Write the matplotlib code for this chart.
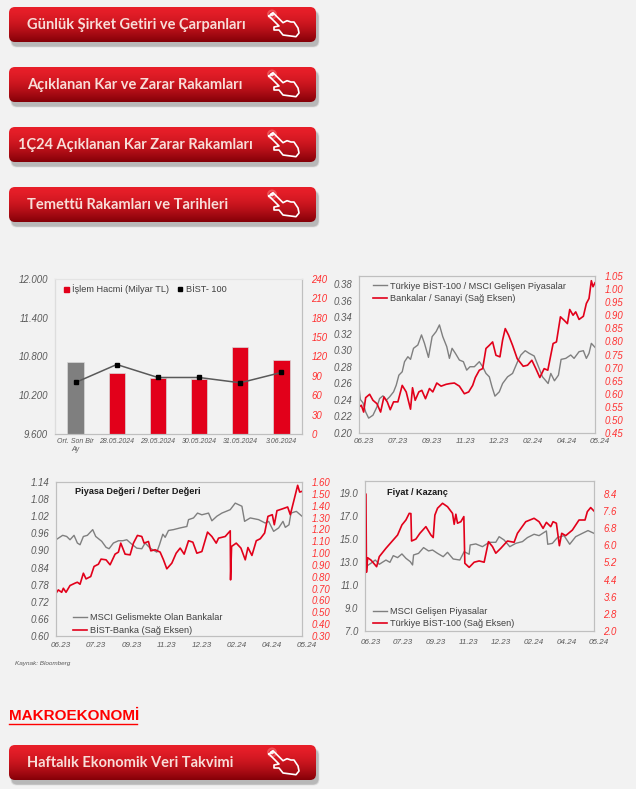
import numpy as np
import matplotlib
matplotlib.use('Agg')
import matplotlib.pyplot as plt
from matplotlib.patches import FancyBboxPatch, Circle
from matplotlib.transforms import ScaledTranslation

plt.rcParams['font.family'] = ['Liberation Sans', 'DejaVu Sans']

W, H = 636, 789
BG = '#F2F2F2'
RED = '#E2001A'
GRAY = '#7F7F7F'
TICK_GRAY = '#595959'
TICK_RED = '#FF3030'
SPINE = '#BFBFBF'

# buttons
button_labels = ['Günlük Şirket Getiri ve Çarpanları', 'Açıklanan Kar ve Zarar Rakamları',
                 '1Ç24 Açıklanan Kar Zarar Rakamları', 'Temettü Rakamları ve Tarihleri',
                 'Haftalık Ekonomik Veri Takvimi']
button_tops = [7, 67, 127, 187, 745]
button_text_x = [27, 27, 18, 27, 27]

# volume chart
vol_cats = ['Ort. Son Bir\nAy', '28.05.2024', '29.05.2024', '30.05.2024', '31.05.2024', '3.06.2024']
vol_values = [112, 95, 87, 85.5, 135, 115]
bist_values = [10398, 10676, 10475, 10475, 10393, 10553]

months = ['06.23', '07.23', '09.23', '11.23', '12.23', '02.24', '04.24', '05.24']

# BIST-100 / MSCI and Banks / Industry
x_a1 = [0, .4, 1.2, 2, 2.9, 4.2, 5.4, 6.2, 7.2, 8.2, 9.2, 10.4, 11.2, 12, 13, 13.7, 14.7, 15.5, 16.4, 17.7, 18.8, 19.7, 20.9, 22, 23.2, 24.2, 25.2, 26.4, 27.2, 28, 29, 30.2, 31.4, 32.4, 33.4, 34.7, 36.2, 37.2, 38.2, 39.2, 40, 40.9, 42.2, 43.2, 44.7, 46.2, 47.7, 48.7, 50, 51.2, 52.7, 54, 55.2, 56.9, 57.7, 58.8, 60, 60.8, 62.2, 63.7, 64.7, 66.2, 67.5, 68.4, 69.2, 69.9, 71]
y_a1 = [.256, .2405, .2365, .2255, .218, .2215, .2316, .2417, .245, .2397, .2437, .2498, .2579, .270, .2741, .2863, .2923, .2891, .3025, .3065, .3187, .3085, .2915, .3166, .3227, .3308, .3166, .3045, .2903, .3025, .2964, .2883, .2863, .2761, .2802, .2802, .2863, .2802, .2721, .268, .256, .2446, .2498, .2599, .268, .2721, .2863, .2944, .2996, .2964, .2932, .2802, .268, .2599, .2721, .2632, .27, .2891, .2903, .2944, .2903, .2984, .2996, .2903, .2964, .3085, .3037]
x_a2 = [0, .7, 1.4, 2, 3.2, 4.2, 5.4, 6.5, 7.5, 8.5, 9.4, 10.4, 11.7, 13, 14.2, 15.5, 16.1, 16.9, 18, 18.9, 20, 21.2, 22.2, 23.4, 24.7, 26.2, 27.4, 28.7, 30.2, 31.7, 33, 34.2, 35, 36.2, 37.2, 38.2, 39.2, 40.2, 41.2, 42.4, 43.2, 44, 45, 46.2, 47.6, 49.4, 50.7, 52, 53.2, 54.4, 55.7, 56.8, 57.8, 58.4, 59.4, 60.6, 61.7, 62.7, 63.4, 64.4, 65.2, 66.2, 67.5, 68.4, 69.2, 69.9, 70.4, 71]
y_a2 = [.549, .556, .530, .585, .598, .575, .562, .530, .588, .569, .539, .569, .569, .632, .607, .541, .623, .575, .607, .613, .581, .620, .607, .641, .629, .636, .639, .641, .629, .600, .607, .632, .662, .690, .696, .773, .785, .798, .747, .741, .805, .849, .824, .785, .734, .705, .709, .728, .696, .662, .696, .690, .754, .792, .798, .894, .881, .868, .922, .900, .913, .884, .896, .945, .964, 1.032, 1.009, 1.024]

# price / book
x_b1 = [0, .7, 2, 3.2, 4.2, 5.4, 6.4, 7.2, 8.2, 9.4, 11, 11.9, 13.7, 15, 15.9, 17.2, 18.7, 20, 21.2, 22.7, 24.2, 25.7, 26.7, 28.2, 30.2, 31, 32, 32.7, 33.7, 35.2, 37.2, 39.2, 39.7, 41.2, 42.4, 43.7, 45.7, 46.7, 48.2, 49.7, 52.2, 53.7, 55.7, 56.5, 58.2, 60.7, 62.7, 63.7, 65.2, 66.7, 68, 68.7, 69.8, 70.4, 72, 73.7]
y_b1 = [.9375, .943, .953, .949, .9375, .953, .926, .920, .949, .953, .973, .949, .932, .911, .906, .926, .934, .934, .9375, .922, .908, .906, .926, .908, .894, .920, .957, .946, .970, .973, .979, .984, 1.008, 1.014, 1.031, 1.025, 1.031, 1.004, 1.020, 1.031, 1.043, 1.066, 1.055, 1.002, 1.014, 1.008, .996, 1.002, .967, .979, 1.002, .981, .990, 1.031, 1.037, 1.020]
x_b2 = [0, .7, 1.7, 2.2, 3, 4.2, 5.7, 6.4, 7.2, 8.2, 9, 10.4, 11.4, 12.7, 13.5, 15, 16.2, 17.7, 18.7, 19.4, 20.7, 22.2, 23.2, 24.4, 25.7, 26.4, 27.7, 28.4, 29.7, 31.2, 32.2, 33.2, 34.7, 36, 37.2, 38.4, 39.7, 41, 42.2, 43.7, 45.4, 46.7, 48, 48.7, 50.7, 52.2, 52.3, 52.6, 54, 55.4, 56.7, 57.5, 58.7, 60, 61.2, 62.5, 63.5, 64.8, 65.4, 66.2, 67.7, 69.4, 70.2, 71.2, 72.4, 73, 73.7]
y_b2 = [.661, .689, .669, .703, .669, .726, .746, .754, .737, .830, .782, .802, .887, .906, .949, .943, .901, .991, 1.008, 1.084, .991, .985, 1.084, 1.149, 1.140, 1.084, 1.098, 1.019, 1.028, 1.008, .943, .867, .915, .999, 1.042, .991, 1.104, 1.092, .999, 1.013, 1.177, 1.140, 1.084, 1.126, 1.140, 1.188, .774, 1.056, 1.084, 1.042, .943, 1.047, .980, 1.104, 1.121, 1.169, 1.310, 1.324, 1.239, 1.358, 1.372, 1.389, 1.324, 1.436, 1.572, 1.515, 1.521]

# price / earnings
x_c1 = [.2, 1.7, 3, 4.2, 6.2, 7.4, 8.4, 9.7, 11, 12.2, 13.5, 14.2, 14.5, 16, 17.5, 19, 20.2, 21.7, 23.4, 24.7, 26.4, 28.4, 29.7, 31.2, 31.5, 33.2, 35.2, 37.2, 39.2, 40.2, 41.7, 43.4, 45.2, 47.2, 48.7, 50.7, 52.2, 54.4, 54.8, 56.2, 57.7, 59.7, 61.4, 63.2, 65.2, 66.9, 68.7]
y_c1 = [12.60, 12.89, 13.17, 12.80, 13.17, 12.97, 13.55, 13.38, 13.70, 13.32, 13.03, 12.74, 13.61, 13.75, 14.25, 13.96, 14.04, 13.75, 13.46, 13.84, 13.26, 13.17, 13.90, 13.67, 14.48, 14.57, 14.33, 14.71, 14.71, 15.20, 14.91, 14.33, 14.62, 14.77, 15.12, 15.41, 15.29, 15.70, 14.54, 14.62, 15.12, 15.29, 14.54, 15.20, 15.49, 15.73, 15.49]
x_c2 = [.2, .35, .7, 1.7, 3.4, 4.2, 6.2, 8.4, 9.7, 11, 12.2, 13.2, 13.7, 13.9, 15.2, 16.4, 18.2, 19.7, 20.4, 20.9, 21.7, 23.2, 24.7, 26.2, 26.7, 27.2, 27.7, 28.7, 29.6, 29.9, 31.2, 32.7, 34.2, 35.7, 37, 38.2, 39.2, 40.7, 42.7, 44.7, 45.7, 48.2, 50.7, 52.2, 53.4, 54.4, 55.7, 56.4, 57.4, 58.3, 59, 60.2, 62.2, 64.2, 66, 66.7, 67.7, 68.7]
y_c2 = [8.38, 4.74, 5.42, 5.31, 5.00, 5.47, 5.86, 6.25, 6.48, 6.95, 7.18, 7.49, 7.48, 6.20, 6.29, 6.56, 6.87, 6.48, 6.36, 7.41, 7.73, 7.96, 7.80, 7.49, 6.98, 7.45, 7.03, 7.10, 7.34, 5.16, 4.97, 5.21, 5.27, 5.21, 6.17, 5.94, 5.63, 5.86, 6.20, 6.14, 6.56, 7.10, 7.26, 7.10, 6.79, 7.07, 6.87, 7.10, 7.03, 5.98, 6.56, 6.45, 6.71, 7.18, 7.18, 7.57, 7.76, 7.60]

fig = plt.figure(figsize=(W / 100, H / 100), dpi=100, facecolor=BG)


def px_axes(left, top, right, bottom, **kw):
    return fig.add_axes([left / W, 1 - bottom / H, (right - left) / W, (bottom - top) / H], **kw)


# overlay in pixel coordinates for the buttons
ov = fig.add_axes([0, 0, 1, 1], zorder=5)
ov.set_xlim(0, W)
ov.set_ylim(H, 0)
ov.axis('off')
ov.patch.set_alpha(0)

grad = np.linspace(0, 1, 64)[:, None, None]
top_c = np.array([0.91, 0.12, 0.16])[None, None, :]
bot_c = np.array([0.52, 0.0, 0.03])[None, None, :]
grad_img = top_c * (1 - grad ** 1.6) + bot_c * grad ** 1.6

hand = [(269, 9), (273, 5.7), (283, 15.7), (287, 13.7), (291, 15), (294, 15), (298, 21), (299, 26), (296, 29.7),
        (283, 28), (279, 23), (274, 23), (274, 20), (279, 19), (269, 9)]

for label, top, tx in zip(button_labels, button_tops, button_text_x):
    for grow, a in ((3, .12), (2, .18), (1, .25)):
        ov.add_patch(FancyBboxPatch((12 - grow / 2, top + 5 - grow / 2), 306 + grow, 34 + grow,
                                    boxstyle='round,pad=0,rounding_size=6', fc='#777777', ec='none', alpha=a))
    box = FancyBboxPatch((9, top), 307, 35, boxstyle='round,pad=0,rounding_size=6', fc='none', ec='none')
    ov.add_patch(box)
    im = ov.imshow(grad_img, extent=(9, 316, top + 35, top), aspect='auto', interpolation='bilinear', zorder=2)
    im.set_clip_path(box)
    ov.text(tx, top + 18, label, color='#F8DDD8', fontsize=10.55, family='Lato', weight='bold',
            va='center', ha='left', zorder=3)
    ov.add_patch(Circle((272, top + 7.5), 5, fc='#F47C7C', ec='none', alpha=.55, zorder=3))
    ov.add_patch(Circle((272, top + 7.5), 2.4, fc='#FBE6E2', ec='#E2001A', lw=.6, zorder=3))
    hx, hy = zip(*hand)
    ov.plot(hx, [top + v for v in hy], color='white', lw=1.2, zorder=4, solid_joinstyle='round')
ov.set_xlim(0, W)
ov.set_ylim(H, 0)

ov.text(9, 716, 'MAKROEKONOMİ', color='#FF0000', fontsize=11, weight='bold', va='center', ha='left')
ov.plot([9, 137], [723.5, 723.5], color='#FF0000', lw=1)
ov.text(15, 663, 'Kaynak: Bloomberg', color=TICK_GRAY, fontsize=4.6, style='italic', va='center', ha='left')


def style_pair(ax, axr, xpad=4):
    for a in (ax, axr):
        a.set_facecolor('none')
        for s in a.spines.values():
            s.set_color(SPINE)
            s.set_linewidth(.8)
    ax.tick_params(axis='y', length=0, pad=5, labelsize=6.9, labelcolor=TICK_GRAY)
    axr.tick_params(axis='y', length=0, pad=6.8, labelsize=6.9, labelcolor=TICK_RED)
    ax.tick_params(axis='x', length=0, pad=xpad, labelsize=5.8, labelcolor=TICK_GRAY)
    for t in ax.get_yticklabels() + axr.get_yticklabels() + ax.get_xticklabels():
        t.set_style('italic')


def line_panel(box, x1, y1, x2, y2, xmax, ylim, yticks, yfmt, ylimr, yticksr, yfmtr, names, leg_xy, spacing, xpad, title=None):
    ax = px_axes(*box)
    axr = ax.twinx()
    l1, = ax.plot(x1, y1, color=GRAY, lw=1.0)
    l2, = axr.plot(x2, y2, color=RED, lw=1.2)
    ax.set_xlim(0, xmax)
    ax.set_ylim(*ylim)
    axr.set_ylim(*ylimr)
    ax.set_xticks(np.linspace(0, xmax, len(months)))
    ax.set_xticklabels(months)
    ax.set_yticks(yticks)
    ax.set_yticklabels([yfmt % v for v in yticks])
    axr.set_yticks(yticksr)
    axr.set_yticklabels([yfmtr % v for v in yticksr])
    style_pair(ax, axr, xpad)
    for t in ax.get_xticklabels():
        t.set_transform(t.get_transform() + ScaledTranslation(5 / 100, 0, fig.dpi_scale_trans))
    axr.legend([l1, l2], names, loc='upper left', bbox_to_anchor=leg_xy, frameon=False, fontsize=6.6,
               labelcolor='#404040', handlelength=1.55, handletextpad=.3, labelspacing=spacing, borderaxespad=0, borderpad=0)
    if title:
        axr.text(title[1], title[2], title[0], transform=axr.transAxes, fontsize=6.6, weight='bold', color='#1A1A1A', va='center')
    return ax, axr


# volume panel
ax1 = px_axes(55, 279, 302, 434)
ax1r = ax1.twinx()
ax1.set_zorder(ax1r.get_zorder() + 1)
x_pos = np.arange(len(vol_cats))
bar_colors = [GRAY] + [RED] * 5
bars = ax1r.bar(x_pos, vol_values, width=.4, color=bar_colors, edgecolor='#D9D9D9', linewidth=.5)
ax1.plot(x_pos, bist_values, color='#595959', lw=1.1, marker='s', ms=2.6, mfc='black', mec='black')
ax1.set_xlim(-.5, 5.5)
ax1.set_ylim(9600, 12000)
ax1r.set_ylim(0, 240)
ax1.set_xticks(x_pos)
ax1.set_xticklabels(vol_cats)
left_ticks = [9600, 10200, 10800, 11400, 12000]
ax1.set_yticks(left_ticks)
ax1.set_yticklabels([f'{v:,}'.replace(',', '.') for v in left_ticks])
ax1r.set_yticks(range(0, 241, 30))
style_pair(ax1, ax1r)
ax1.tick_params(axis='x', labelsize=5, pad=3)
for t in ax1.get_xticklabels():
    t.set_linespacing(1.1)
ax1.spines['top'].set_color('#E4E4E4')
ax1r.spines['top'].set_color('#E4E4E4')
ax1r.spines['left'].set_color('#DDDDDD')
ax1.spines['left'].set_color('#DDDDDD')
h1 = plt.Line2D([], [], ls='none', marker='s', ms=3.6, color=RED)
h2 = plt.Line2D([], [], ls='none', marker='s', ms=2.4, color='black')
ax1.legend([h1, h2], ['İşlem Hacmi (Milyar TL)', 'BİST- 100'], loc='upper left', ncol=2, frameon=False,
           bbox_to_anchor=(.035, .965), fontsize=6.6, labelcolor='#404040', handlelength=.6, handletextpad=.35,
           columnspacing=.9, borderaxespad=0, borderpad=0)

line_panel((359, 276, 595, 433), x_a1, y_a1, x_a2, y_a2, 71, (.20, .39), np.arange(.20, .381, .02), '%.2f',
           (.45, 1.05), np.arange(.45, 1.051, .05), '%.2f',
           ['Türkiye BİST-100 / MSCI Gelişen Piyasalar', 'Bankalar / Sanayi (Sağ Eksen)'], (.059, .97), .38, 3.6)

line_panel((56, 482, 302, 636), x_b1, y_b1, x_b2, y_b2, 73.7, (.60, 1.14), np.arange(.60, 1.141, .06), '%.2f',
           (.30, 1.60), np.arange(.30, 1.601, .10), '%.2f',
           ['MSCI Gelismekte Olan Bankalar', 'BİST-Banka (Sağ Eksen)'], (.069, .15), .38, 4.2,
           title=('Piyasa Değeri / Defter Değeri', .078, .94))

line_panel((365.3, 481, 594, 631), x_c1, y_c1, x_c2, y_c2, 68.7, (7, 20.04), np.arange(7, 19.1, 2), '%.1f',
           (2, 9), np.arange(2, 8.41, .8), '%.1f',
           ['MSCI Gelişen Piyasalar', 'Türkiye BİST-100 (Sağ Eksen)'], (.034, .16), .27, 5.4,
           title=('Fiyat / Kazanç', .097, .925))

fig.savefig('out.png', dpi=100, facecolor=BG)
